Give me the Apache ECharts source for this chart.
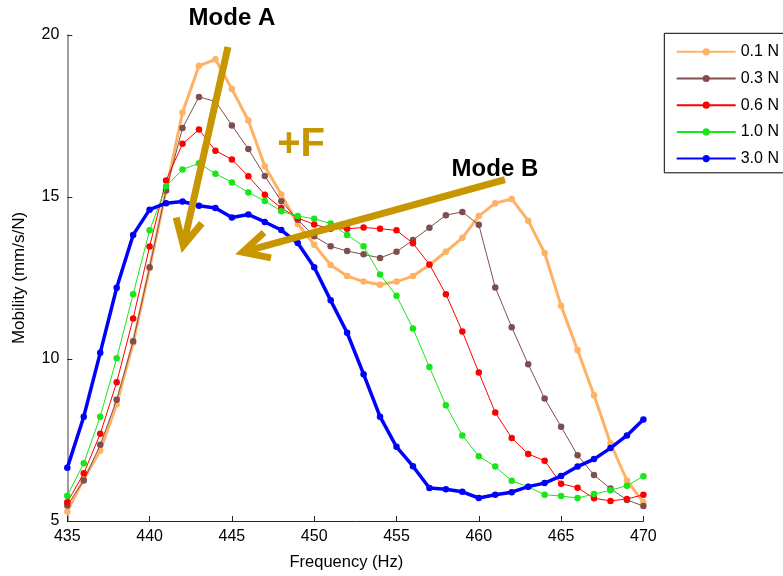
<!DOCTYPE html>
<html>
<head>
<meta charset="utf-8">
<style>
  html, body { margin: 0; padding: 0; background: #fff; }
  #chart { width: 783px; height: 576px; }
</style>
<script src="https://cdn.jsdelivr.net/npm/echarts@6/dist/echarts.min.js"></script>
</head>
<body>
<div id="chart"></div>
<script>
// Frequency sweep, 1 Hz steps
const freqs = [435,436,437,438,439,440,441,442,443,444,445,446,447,448,449,450,451,452,
               453,454,455,456,457,458,459,460,461,462,463,464,465,466,467,468,469,470];

// Mobility (mm/s/N) for each applied force
const force01 = [5.29,6.30,7.17,8.60,10.50,12.80,15.20,17.61,19.05,19.25,18.33,17.36,15.95,15.08,14.17,13.53,12.90,12.56,
                 12.39,12.29,12.39,12.56,12.90,13.31,13.74,14.41,14.81,14.94,14.27,13.27,11.64,10.28,8.88,7.40,6.25,5.58];
const force03 = [5.48,6.25,7.35,8.74,10.55,12.83,15.20,17.13,18.09,17.95,17.21,16.48,15.65,14.87,14.30,13.79,13.48,13.33,
                 13.23,13.12,13.31,13.67,14.05,14.44,14.54,14.14,12.21,10.98,9.84,8.78,7.91,7.03,6.42,6.00,5.65,5.46];
const force06 = [5.58,6.47,7.69,9.28,11.25,13.47,15.51,16.64,17.08,16.43,16.16,15.64,15.07,14.66,14.35,14.15,14.02,14.02,
                 14.06,14.02,13.97,13.57,12.92,12.00,10.85,9.58,8.35,7.56,7.07,6.86,6.15,6.03,5.70,5.62,5.68,5.81];
const force10 = [5.78,6.78,8.22,10.02,12.00,13.97,15.33,15.85,16.04,15.72,15.45,15.14,14.88,14.56,14.41,14.33,14.18,13.83,
                 13.48,12.61,11.95,10.94,9.75,8.57,7.64,7.00,6.68,6.24,6.06,5.81,5.77,5.71,5.83,5.95,6.09,6.38];
const force30 = [6.64,8.22,10.19,12.20,13.83,14.61,14.81,14.86,14.73,14.66,14.37,14.46,14.23,13.98,13.58,12.83,11.81,10.81,
                 9.53,8.22,7.29,6.69,6.02,5.98,5.90,5.71,5.81,5.89,6.06,6.17,6.39,6.68,6.91,7.25,7.64,8.13];

const seriesNames = ['0.1 N', '0.3 N', '0.6 N', '1.0 N', '3.0 N'];
const seriesValues = [force01, force03, force06, force10, force30];
const seriesColors = ['#FFB164', '#7F4F4F', '#FF0000', '#19E619', '#0000FF'];
const seriesWidths = [3, 1, 1, 1, 3.5];

const xTicks = { min: 435, max: 470, step: 5 };
const yTicks = { min: 5, max: 20, step: 5 };

// Annotations in data coordinates
const modeLabels = [
  { text: 'Mode A', at: [445.0, 20.52] },
  { text: 'Mode B', at: [460.98, 15.84] }
];
const forceLabel = { text: '+F', at: [449.2, 16.62] };
const arrows = [
  { from: [444.76, 19.63], to: [442.05, 13.50] },
  { from: [461.59, 15.54], to: [445.65, 13.30] }
];

const FONT = "'Liberation Sans', Arial, Helvetica, sans-serif";
const GOLD = '#C89600';

const chart = echarts.init(document.getElementById('chart'), null, { renderer: 'canvas' });

const series = seriesNames.map((name, i) => ({
  name: name,
  type: 'line',
  data: freqs.map((f, k) => [f, seriesValues[i][k]]),
  symbol: 'circle',
  symbolSize: 6.5,
  showSymbol: true,
  itemStyle: { color: seriesColors[i] },
  lineStyle: { color: seriesColors[i], width: seriesWidths[i] },
  emphasis: { disabled: true },
  animation: false,
  z: 2 + i
}));

chart.setOption({
  animation: false,
  backgroundColor: '#fff',
  textStyle: { fontFamily: FONT },
  grid: { left: 67.3, right: 139.6, top: 35, bottom: 53.7, containLabel: false },
  xAxis: {
    type: 'value',
    min: xTicks.min, max: xTicks.max, interval: xTicks.step,
    name: 'Frequency (Hz)',
    nameLocation: 'middle',
    nameGap: 33,
    nameTextStyle: { fontSize: 16.5, color: '#000', fontFamily: FONT, padding: [0, 18, 0, 0] },
    axisLine: { lineStyle: { color: '#262626', width: 1 } },
    axisTick: { inside: true, length: 5, lineStyle: { color: '#262626' } },
    axisLabel: { fontSize: 16, color: '#000', fontFamily: FONT, margin: 8 },
    splitLine: { show: false }
  },
  yAxis: {
    type: 'value',
    min: yTicks.min, max: yTicks.max, interval: yTicks.step,
    name: 'Mobility (mm/s/N)',
    nameLocation: 'middle',
    nameGap: 39,
    nameTextStyle: { fontSize: 17, color: '#000', fontFamily: FONT },
    axisLine: { show: true, lineStyle: { color: '#808080', width: 1.5 } },
    axisTick: { show: true, inside: true, length: 5, lineStyle: { color: '#262626' } },
    axisLabel: { fontSize: 16, color: '#000', fontFamily: FONT, margin: 8 },
    splitLine: { show: false }
  },
  legend: {
    orient: 'vertical',
    left: 664.3,
    top: 33.3,
    padding: [10.5, 40, 6.2, 11.4],
    itemWidth: 59,
    itemHeight: 9,
    itemGap: 10.7,
    borderColor: '#000',
    borderWidth: 1,
    backgroundColor: '#fff',
    selectedMode: false,
    textStyle: { fontSize: 16, color: '#000', fontFamily: FONT },
    data: seriesNames
  },
  series: series
});

// Arrow shaft plus chevron head, all drawn in pixels converted from data coordinates
function arrowGraphics(a) {
  const p0 = chart.convertToPixel({ gridIndex: 0 }, a.from);
  const p1 = chart.convertToPixel({ gridIndex: 0 }, a.to);
  const dx = p0[0] - p1[0], dy = p0[1] - p1[1];
  const len = Math.hypot(dx, dy);
  const ux = dx / len, uy = dy / len;
  const wing = 29, ang = 27 * Math.PI / 180;
  const rot = (s) => [
    p1[0] + wing * (ux * Math.cos(s * ang) - uy * Math.sin(s * ang)),
    p1[1] + wing * (ux * Math.sin(s * ang) + uy * Math.cos(s * ang))
  ];
  const style = { stroke: GOLD, lineWidth: 7, fill: null, lineJoin: 'miter', lineCap: 'butt' };
  return [
    { type: 'polyline', z: 100, silent: true, shape: { points: [p0, p1] }, style: style },
    { type: 'polyline', z: 100, silent: true, shape: { points: [rot(1), p1, rot(-1)] }, style: style }
  ];
}

function textGraphic(lbl, size, color) {
  const p = chart.convertToPixel({ gridIndex: 0 }, lbl.at);
  return {
    type: 'text', z: 101, silent: true,
    x: p[0], y: p[1],
    style: {
      text: lbl.text, fill: color,
      font: 'bold ' + size + 'px ' + FONT,
      align: 'center', verticalAlign: 'middle'
    }
  };
}

const graphics = [];
arrows.forEach(a => graphics.push(...arrowGraphics(a)));
modeLabels.forEach(l => graphics.push(textGraphic(l, 24, '#000')));
graphics.push(textGraphic(forceLabel, 40, GOLD));

chart.setOption({ graphic: graphics });
</script>
</body>
</html>
